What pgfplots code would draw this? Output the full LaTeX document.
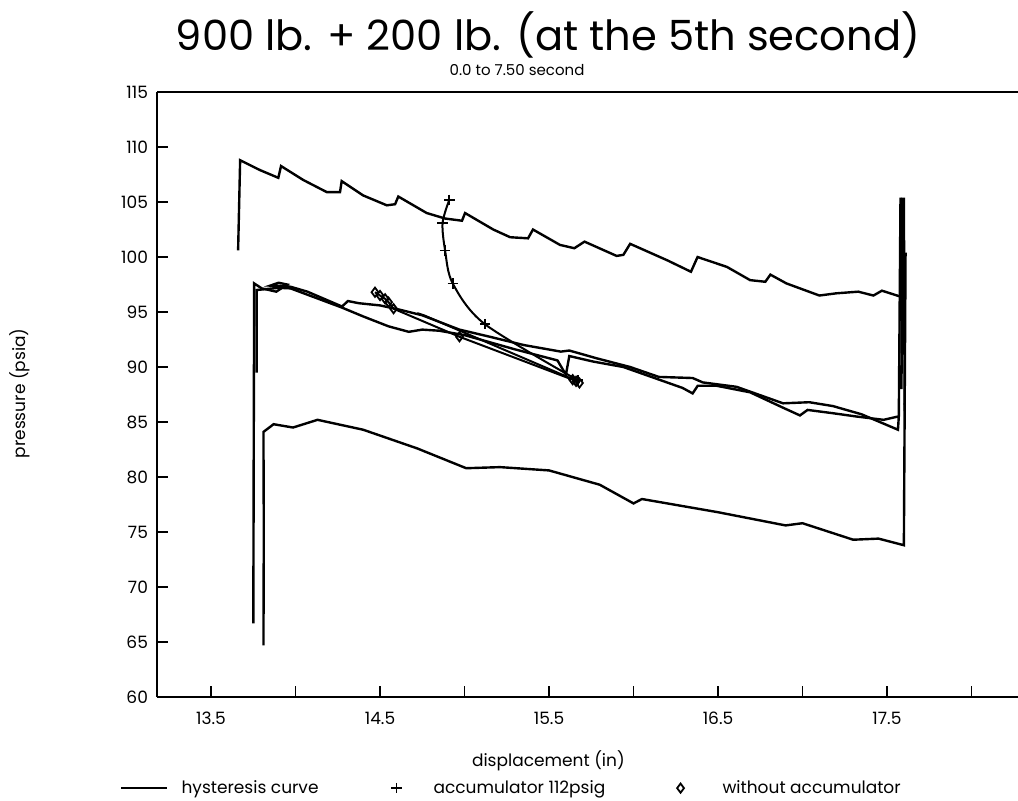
\documentclass[border=0pt]{standalone}
\usepackage{pgfplots}
\pgfplotsset{compat=1.18}
\usepackage{fontspec}
\setmainfont{Poppins}
\pgfplotsset{
  linelegend/.style={legend image code/.code={\draw[##1] (0pt,2.6pt) -- (23pt,2.6pt);}},
  marklegend/.style={legend image code/.code={\path[draw=none,fill=none] (0pt,0pt) -- (23pt,0pt);\draw[##1] plot coordinates {(11.5pt,2.6pt)};}},
}
\begin{document}
\begin{tikzpicture}
\path[use as bounding box] (0pt,0pt) rectangle (509pt,-400pt);
\node[font=\fontsize{20.8}{24}\selectfont] at (274pt,-17.5pt) {900 lb. + 200 lb. (at the 5th second)};
\node[font=\fontsize{7.5}{9}\selectfont] at (258.5pt,-35pt) {0.0 to 7.50 second};
\begin{axis}[
  at={(78.5pt,-348.5pt)}, anchor=south west,
  scale only axis, width=433pt, height=302.5pt,
  xmin=13.18, xmax=18.305, ymin=60, ymax=115,
  axis x line*=bottom, axis y line*=left,
  axis line style={line width=1pt},
  xtick={13.5,14,...,18}, xticklabels={13.5,,14.5,,15.5,,16.5,,17.5,},
  ytick={60,65,...,115},
  tick align=inside, major tick length=5.5pt,
  tick style={line width=0.9pt,black},
  ticklabel style={font=\fontsize{8.5}{10}\selectfont},
  xticklabel style={yshift=-4pt},
  yticklabel style={xshift=-1pt},
  /pgf/number format/assume math mode=true,
  xlabel={displacement (in)}, ylabel={pressure (psia)},
  label style={font=\fontsize{8.5}{10}\selectfont},
  xlabel style={at={(axis description cs:0.452,-0.105)},anchor=center},
  ylabel style={at={(axis description cs:-0.158,0.502)},anchor=center},
  legend columns=3,
  legend style={at={(axis description cs:-0.0430,-0.151)},anchor=west,draw=none,
     inner sep=0pt,nodes={inner sep=0pt,anchor=base west,font=\fontsize{8.5}{10}\selectfont},
     /tikz/column sep=0pt},
  clip=false,
]
\draw[line width=1pt] (rel axis cs:0,1) -- (rel axis cs:1,1);
% hysteresis: upper curve
\addplot[black,line width=1.2pt,linelegend] coordinates {
(13.66,100.6) (13.665,104) (13.672,108.8) (13.79,107.9) (13.898,107.2) (13.914,108.27)
(14.046,107.0) (14.185,105.9) (14.263,105.9) (14.273,106.9) (14.40,105.6) (14.54,104.7)
(14.589,104.8) (14.608,105.5) (14.776,104.0) (14.885,103.5) (14.985,103.3) (15.003,104.0)
(15.17,102.5) (15.27,101.8) (15.376,101.7) (15.405,102.5) (15.565,101.1) (15.65,100.8)
(15.71,101.4) (15.90,100.1) (15.94,100.2) (15.98,101.2) (16.20,99.7) (16.34,98.66)
(16.379,100.0) (16.553,99.1) (16.69,97.9) (16.78,97.75) (16.81,98.4) (16.905,97.6)
(17.10,96.5) (17.20,96.7) (17.33,96.85) (17.42,96.5) (17.47,96.94) (17.58,96.4) (17.595,96.7)
(17.59,105.4) (17.585,88) (17.6,105.4) (17.605,86)
};
\addlegendentry{\makebox[102.5pt][l]{\hspace{6.5pt}hysteresis curve}}
% accumulator
\addplot[black,line width=1pt,smooth,mark=+,mark size=2.6pt,mark options={line width=0.9pt},marklegend] coordinates {
(14.91,105.2) (14.87,103.1) (14.885,100.6) (14.93,97.6) (15.12,93.9) (15.67,88.8)
};
\addlegendentry{\makebox[119pt][l]{\hspace{7pt}accumulator 112psig}}
% without accumulator
\addplot[black,line width=1pt,mark=diamond,mark size=2.3pt,mark options={line width=0.9pt},marklegend] coordinates {
(14.47,96.8) (14.50,96.5) (14.53,96.2) (14.55,95.9) (14.58,95.3) (14.97,92.75) (15.64,88.85)
(15.66,88.7) (15.68,88.55)
};
\addlegendentry{\hspace{9.5pt}without accumulator}
\addplot[black,line width=1pt,forget plot] coordinates {
(15.67,88.7) (14.76,94.7) (14.72,94.9)
};
% middle band upper branch
\addplot[black,line width=1.2pt,forget plot] coordinates {
(13.75,66.7) (13.752,80) (13.755,97.6) (13.80,97.15) (13.886,96.85) (13.95,97.5) (13.90,97.66) (13.85,97.4)
(13.97,97.3) (14.07,96.85) (14.275,95.5) (14.31,96.0) (14.375,95.8) (14.50,95.6) (14.62,95.2)
(14.75,94.7) (14.97,93.4) (15.15,92.75) (15.35,92.0) (15.57,91.4) (15.62,91.5) (15.78,90.8)
(15.98,90.0) (16.15,89.1) (16.35,89.0) (16.41,88.6) (16.61,88.2)
(16.885,86.7) (17.04,86.8) (17.18,86.45) (17.35,85.7) (17.565,84.3) (17.57,85.5) (17.58,105.4)
};
% middle band lower branch
\addplot[black,line width=1.2pt,forget plot] coordinates {
(13.77,89.5) (13.77,97.0) (13.9,97.2) (13.97,97.15) (14.275,95.4) (14.40,94.6) (14.55,93.7)
(14.67,93.2) (14.75,93.4) (14.85,93.3) (15.0,92.9) (15.3,91.6) (15.55,90.6) (15.60,89.3) (15.62,91.0)
(15.76,90.5) (15.94,90.0) (16.29,88.1)
(16.35,87.6) (16.38,88.3) (16.49,88.3) (16.69,87.7) (16.885,86.3) (16.985,85.6) (17.03,86.1)
(17.18,85.8) (17.32,85.5) (17.48,85.2) (17.565,85.5)
};
% lower curve
\addplot[black,line width=1.2pt,forget plot] coordinates {
(13.81,64.7) (13.812,75) (13.81,84.1) (13.87,84.8) (13.985,84.5) (14.13,85.2) (14.40,84.3)
(14.72,82.6) (15.01,80.8) (15.21,80.9) (15.5,80.6) (15.8,79.3) (16.0,77.6) (16.05,78.0)
(16.5,76.8) (16.9,75.6) (17.0,75.8) (17.3,74.3) (17.45,74.4) (17.6,73.8) (17.61,100.4)
};
\end{axis}
\end{tikzpicture}
\end{document}
